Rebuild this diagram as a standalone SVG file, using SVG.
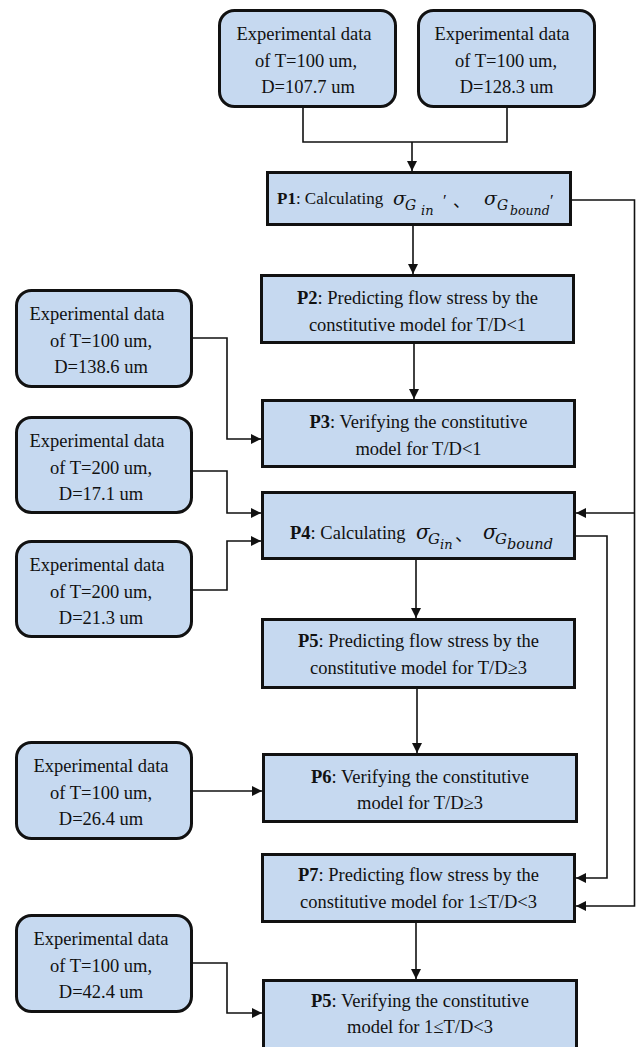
<svg xmlns="http://www.w3.org/2000/svg" width="637" height="1047" viewBox="0 0 637 1047">
<defs>
<style>
.box{fill:#c6d9f0;stroke:#111;stroke-width:3}
.t{font-family:"Liberation Serif","Times New Roman",serif;font-size:18.5px;fill:#111;text-anchor:middle}
.ts{font-family:"Liberation Serif","Times New Roman",serif;font-size:18.5px;fill:#111}
.m{font-family:"DejaVu Serif","Liberation Serif",serif;font-style:italic;fill:#111}
.pr{font-family:"Liberation Serif","Times New Roman",serif;fill:#111}
.cjk{font-family:"Liberation Serif","Noto Sans CJK SC",sans-serif;fill:#111}
.b{font-weight:bold}
.conn path{fill:none;stroke:#111;stroke-width:1.6}
</style>
<marker id="ah" markerUnits="userSpaceOnUse" markerWidth="11" markerHeight="11" refX="10" refY="5" orient="auto">
<path d="M0,0 L10,5 L0,10 z" fill="#111"/>
</marker>
</defs>
<rect width="637" height="1047" fill="#fff"/>

<g class="conn">
<path d="M303,108 V142 H507 V108"/>
<path d="M412,142 V171" marker-end="url(#ah)"/>
<path d="M413,226 V274" marker-end="url(#ah)"/>
<path d="M414,344 V399" marker-end="url(#ah)"/>
<path d="M193,338 H227 V439 H261" marker-end="url(#ah)"/>
<path d="M193,471 H227 V513 H261" marker-end="url(#ah)"/>
<path d="M193,590 H227 V541 H261" marker-end="url(#ah)"/>
<path d="M572,200 H634.5 V906 H576" marker-end="url(#ah)"/>
<path d="M634.5,513 H576" marker-end="url(#ah)"/>
<path d="M576,536 H607 V878 H576" marker-end="url(#ah)"/>
<path d="M416,560 V618" marker-end="url(#ah)"/>
<path d="M417,689 V753" marker-end="url(#ah)"/>
<path d="M193,791 H262" marker-end="url(#ah)"/>
<path d="M416,923 V979" marker-end="url(#ah)"/>
<path d="M193,963 H227 V1013 H262" marker-end="url(#ah)"/>
</g>

<g id="exp1">
<rect class="box" x="219.5" y="10.5" width="176" height="96" rx="15"/>
<text class="t" x="304" y="40">Experimental data</text>
<text class="t" x="306" y="66.5">of T=100 um,</text>
<text class="t" x="308" y="93">D=107.7 um</text>
</g>
<g id="exp2">
<rect class="box" x="418.5" y="10.5" width="176" height="96" rx="15"/>
<text class="t" x="502" y="40">Experimental data</text>
<text class="t" x="506" y="66.5">of T=100 um,</text>
<text class="t" x="506.5" y="93">D=128.3 um</text>
</g>

<g id="p1">
<rect class="box" x="267.5" y="172.5" width="303" height="52"/>
<text class="ts" x="277" y="204" style="font-size:17px"><tspan class="b">P1</tspan>: Calculating</text>
<text class="m" x="393" y="205" font-size="19">σ</text>
<text class="m" x="405" y="210" font-size="14">G</text>
<text class="m" x="421" y="215" font-size="13">in</text>
<text class="pr" x="443" y="206" font-size="17">′</text>
<text class="cjk" x="453" y="207" font-size="17">、</text>
<text class="m" x="484" y="205" font-size="19">σ</text>
<text class="m" x="497" y="210" font-size="14">G</text>
<text class="m" x="510" y="215" font-size="12.5">bound</text>
<text class="pr" x="550" y="206" font-size="17">′</text>
</g>

<g id="p2">
<rect class="box" x="261.5" y="275.5" width="312" height="67"/>
<text class="t" x="417.5" y="304"><tspan class="b">P2</tspan>: Predicting flow stress by the</text>
<text class="t" x="417.5" y="331">constitutive model for T/D&lt;1</text>
</g>

<g id="exp3">
<rect class="box" x="16.5" y="290.5" width="175" height="96" rx="15"/>
<text class="t" x="97" y="320">Experimental data</text>
<text class="t" x="101" y="346.5">of T=100 um,</text>
<text class="t" x="101" y="373">D=138.6 um</text>
</g>

<g id="p3">
<rect class="box" x="262.5" y="400.5" width="312" height="66"/>
<text class="t" x="418.5" y="428"><tspan class="b">P3</tspan>: Verifying the constitutive</text>
<text class="t" x="418.5" y="455">model for T/D&lt;1</text>
</g>

<g id="exp4">
<rect class="box" x="16.5" y="417.5" width="175" height="95" rx="15"/>
<text class="t" x="97" y="447">Experimental data</text>
<text class="t" x="101" y="473.5">of T=200 um,</text>
<text class="t" x="101" y="500">D=17.1 um</text>
</g>

<g id="p4">
<rect class="box" x="262.5" y="492.5" width="312" height="66"/>
<text class="ts" x="290" y="539"><tspan class="b">P4</tspan>: Calculating</text>
<text class="m" x="416" y="539" font-size="20">σ</text>
<text class="m" x="428" y="544" font-size="15">G</text>
<text class="m" x="440" y="549" font-size="13">in</text>
<text class="cjk" x="455" y="541" font-size="18">、</text>
<text class="m" x="483" y="539" font-size="20">σ</text>
<text class="m" x="495" y="544" font-size="15">G</text>
<text class="m" x="507" y="549" font-size="14.5">bound</text>
</g>

<g id="exp5">
<rect class="box" x="16.5" y="541.5" width="175" height="95" rx="15"/>
<text class="t" x="97" y="571">Experimental data</text>
<text class="t" x="101" y="597.5">of T=200 um,</text>
<text class="t" x="101" y="624">D=21.3 um</text>
</g>

<g id="p5">
<rect class="box" x="262.5" y="619.5" width="312" height="68"/>
<text class="t" x="418.5" y="647"><tspan class="b">P5</tspan>: Predicting flow stress by the</text>
<text class="t" x="418.5" y="674">constitutive model for T/D≥3</text>
</g>

<g id="exp6">
<rect class="box" x="16.5" y="742.5" width="175" height="96" rx="15"/>
<text class="t" x="101" y="772">Experimental data</text>
<text class="t" x="101" y="798.5">of T=100 um,</text>
<text class="t" x="101" y="825">D=26.4 um</text>
</g>

<g id="p6">
<rect class="box" x="263.5" y="754.5" width="313" height="67"/>
<text class="t" x="420" y="783"><tspan class="b">P6</tspan>: Verifying the constitutive</text>
<text class="t" x="420" y="809">model for T/D≥3</text>
</g>

<g id="p7">
<rect class="box" x="262.5" y="854.5" width="312" height="67"/>
<text class="t" x="418.5" y="881"><tspan class="b">P7</tspan>: Predicting flow stress by the</text>
<text class="t" x="418.5" y="908">constitutive model for 1≤T/D&lt;3</text>
</g>

<g id="exp7">
<rect class="box" x="16.5" y="915.5" width="175" height="96" rx="15"/>
<text class="t" x="101" y="945">Experimental data</text>
<text class="t" x="101" y="971.5">of T=100 um,</text>
<text class="t" x="101" y="998">D=42.4 um</text>
</g>

<g id="p8">
<rect class="box" x="263.5" y="980.5" width="313" height="80"/>
<text class="t" x="420" y="1007"><tspan class="b">P5</tspan>: Verifying the constitutive</text>
<text class="t" x="420" y="1033">model for 1≤T/D&lt;3</text>
</g>
</svg>
